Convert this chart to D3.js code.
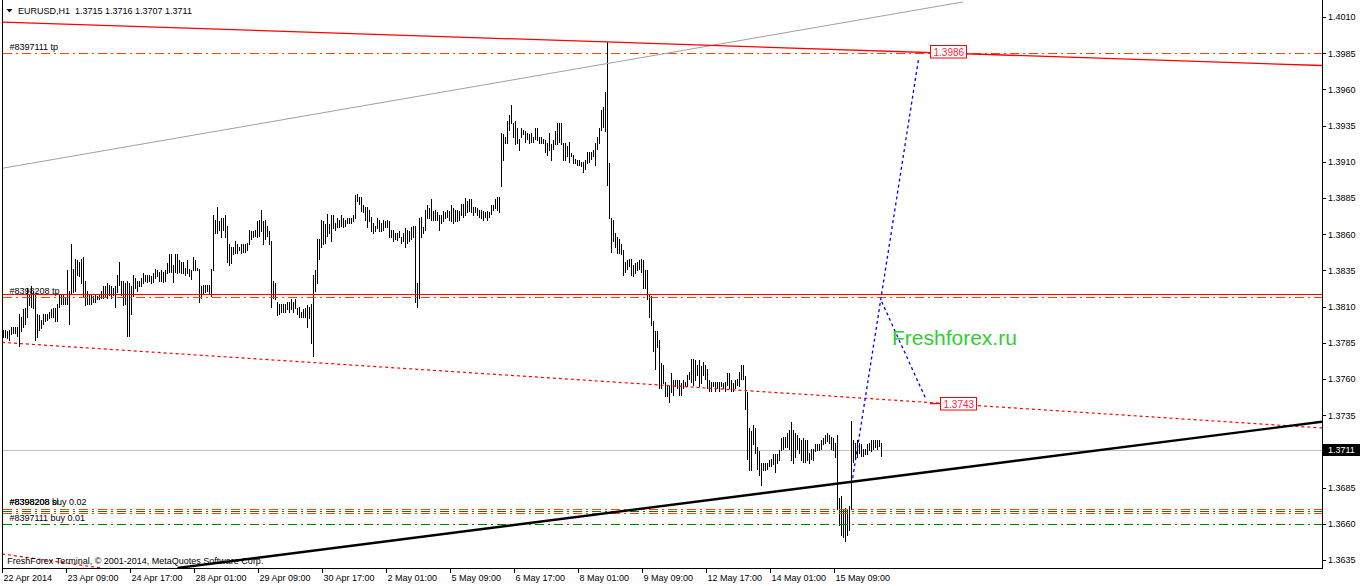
<!DOCTYPE html>
<html><head><meta charset="utf-8">
<script src="https://cdn.jsdelivr.net/npm/d3@7"></script>
<style>
body{margin:0;background:#fff}
svg{display:block}
text{font-family:"Liberation Sans",Arial,sans-serif;}
</style>
</head><body>
<svg id="c" width="1362" height="586"></svg>
<script>
// ---------------- DATA ----------------
const titleText = "EURUSD,H1  1.3715 1.3716 1.3707 1.3711";
const copyrightText = "FreshForex Terminal, \u00a9 2001-2014, MetaQuotes Software Corp.";

const highs = [
1.3794,1.3794,1.3793,1.3794,1.3796,1.3796,1.3796,1.3796,1.3805,1.3803,
1.3808,1.3809,1.3823,1.3819,1.3824,1.3821,1.3818,1.3805,1.3804,1.3801,
1.3805,1.3805,1.3805,1.3806,1.3808,1.3809,1.3809,1.3812,1.3818,1.3819,
1.3819,1.3816,1.3835,1.3821,1.3853,1.3836,1.3843,1.3842,1.3841,1.3843,
1.3844,1.3828,1.3821,1.3818,1.3818,1.3817,1.3818,1.3817,1.3818,1.3821,
1.3824,1.3824,1.3826,1.3825,1.3824,1.3823,1.3824,1.3832,1.3841,1.3828,
1.3828,1.3826,1.3828,1.3826,1.3824,1.3832,1.3830,1.3828,1.3828,1.3830,
1.3833,1.3832,1.3832,1.3832,1.3831,1.3833,1.3836,1.3835,1.3834,1.3835,
1.3834,1.3835,1.3840,1.3846,1.3846,1.3839,1.3846,1.3846,1.3842,1.3841,
1.3841,1.3837,1.3842,1.3836,1.3835,1.3844,1.3842,1.3837,1.3836,1.3824,
1.3825,1.3825,1.3825,1.3825,1.3836,1.3873,1.3870,1.3879,1.3869,1.3871,
1.3871,1.3873,1.3866,1.3853,1.3851,1.3851,1.3855,1.3853,1.3851,1.3853,
1.3853,1.3853,1.3854,1.3863,1.3862,1.3862,1.3863,1.3869,1.3870,1.3877,
1.3869,1.3870,1.3866,1.3862,1.3855,1.3828,1.3826,1.3813,1.3812,1.3812,
1.3812,1.3812,1.3813,1.3813,1.3815,1.3813,1.3815,1.3809,1.3810,1.3806,
1.3808,1.3809,1.3811,1.3810,1.3812,1.3832,1.3835,1.3857,1.3857,1.3870,
1.3869,1.3867,1.3874,1.3867,1.3873,1.3873,1.3868,1.3871,1.3870,1.3873,
1.3871,1.3870,1.3871,1.3871,1.3871,1.3873,1.3887,1.3888,1.3886,1.3886,
1.3880,1.3879,1.3879,1.3877,1.3872,1.3868,1.3866,1.3871,1.3870,1.3868,
1.3870,1.3869,1.3870,1.3869,1.3863,1.3863,1.3861,1.3861,1.3862,1.3858,
1.3861,1.3864,1.3863,1.3862,1.3865,1.3866,1.3866,1.3826,1.3871,1.3872,
1.3865,1.3877,1.3880,1.3878,1.3884,1.3876,1.3877,1.3875,1.3873,1.3873,
1.3876,1.3875,1.3877,1.3876,1.3880,1.3878,1.3877,1.3877,1.3876,1.3881,
1.3881,1.3885,1.3883,1.3884,1.3884,1.3879,1.3879,1.3878,1.3877,1.3877,
1.3876,1.3875,1.3876,1.3875,1.3880,1.3880,1.3884,1.3886,1.3886,1.3930,
1.3929,1.3927,1.3938,1.3942,1.3949,1.3937,1.3938,1.3933,1.3926,1.3933,
1.3932,1.3931,1.3930,1.3929,1.3930,1.3927,1.3933,1.3933,1.3927,1.3927,
1.3926,1.3925,1.3923,1.3930,1.3922,1.3925,1.3931,1.3937,1.3937,1.3937,
1.3923,1.3923,1.3921,1.3924,1.3916,1.3915,1.3912,1.3911,1.3911,1.3910,
1.3910,1.3911,1.3917,1.3917,1.3917,1.3918,1.3923,1.3927,1.3933,1.3946,
1.3948,1.3958,1.3993,1.3909,1.3871,1.3870,1.3861,1.3858,1.3857,1.3853,
1.3849,1.3841,1.3842,1.3843,1.3843,1.3839,1.3840,1.3841,1.3842,1.3843,
1.3842,1.3835,1.3835,1.3819,1.3817,1.3800,1.3793,1.3793,1.3787,1.3771,
1.3770,1.3758,1.3756,1.3755,1.3764,1.3759,1.3759,1.3759,1.3759,1.3757,
1.3759,1.3758,1.3763,1.3765,1.3774,1.3774,1.3773,1.3770,1.3773,1.3769,
1.3772,1.3770,1.3767,1.3759,1.3758,1.3758,1.3758,1.3758,1.3758,1.3758,
1.3757,1.3758,1.3764,1.3764,1.3759,1.3757,1.3759,1.3760,1.3765,1.3770,
1.3770,1.3762,1.3751,1.3726,1.3724,1.3728,1.3726,1.3713,1.3710,1.3702,
1.3702,1.3702,1.3702,1.3704,1.3705,1.3708,1.3708,1.3708,1.3711,1.3719,
1.3720,1.3720,1.3723,1.3725,1.3730,1.3725,1.3723,1.3721,1.3719,1.3718,
1.3719,1.3718,1.3718,1.3709,1.3712,1.3712,1.3715,1.3715,1.3715,1.3718,
1.3719,1.3721,1.3723,1.3721,1.3720,1.3719,1.3716,1.3721,1.3678,1.3679,
1.3670,1.3671,1.3670,1.3672,1.3731,1.3718,1.3716,1.3718,1.3716,1.3715,
1.3712,1.3712,1.3715,1.3716,1.3718,1.3718,1.3718,1.3718,1.3718,1.3716
];
const lows = [
1.3789,1.3789,1.3788,1.3787,1.3791,1.3792,1.3792,1.3790,1.3783,1.3793,
1.3796,1.3798,1.3803,1.3811,1.3810,1.3809,1.3787,1.3789,1.3794,1.3795,
1.3798,1.3800,1.3801,1.3802,1.3803,1.3803,1.3800,1.3800,1.3810,1.3812,
1.3812,1.3812,1.3812,1.3798,1.3819,1.3820,1.3821,1.3832,1.3831,1.3826,
1.3817,1.3811,1.3812,1.3812,1.3812,1.3813,1.3813,1.3815,1.3815,1.3816,
1.3816,1.3817,1.3816,1.3818,1.3816,1.3818,1.3810,1.3820,1.3825,1.3818,
1.3811,1.3812,1.3790,1.3790,1.3805,1.3817,1.3823,1.3821,1.3824,1.3824,
1.3826,1.3828,1.3827,1.3828,1.3826,1.3827,1.3830,1.3831,1.3828,1.3828,
1.3827,1.3828,1.3833,1.3834,1.3834,1.3827,1.3834,1.3833,1.3834,1.3833,
1.3833,1.3832,1.3833,1.3831,1.3829,1.3835,1.3835,1.3835,1.3813,1.3816,
1.3819,1.3820,1.3821,1.3819,1.3817,1.3835,1.3861,1.3861,1.3863,1.3858,
1.3863,1.3858,1.3841,1.3839,1.3840,1.3846,1.3847,1.3847,1.3849,1.3847,
1.3848,1.3848,1.3849,1.3853,1.3857,1.3858,1.3859,1.3858,1.3859,1.3862,
1.3853,1.3857,1.3859,1.3853,1.3810,1.3816,1.3815,1.3804,1.3805,1.3806,
1.3806,1.3806,1.3808,1.3806,1.3808,1.3806,1.3809,1.3805,1.3803,1.3803,
1.3803,1.3803,1.3796,1.3802,1.3785,1.3776,1.3821,1.3826,1.3843,1.3851,
1.3853,1.3854,1.3859,1.3861,1.3855,1.3864,1.3863,1.3865,1.3865,1.3866,
1.3865,1.3866,1.3868,1.3868,1.3868,1.3869,1.3871,1.3883,1.3881,1.3876,
1.3875,1.3870,1.3865,1.3869,1.3862,1.3861,1.3862,1.3864,1.3862,1.3862,
1.3863,1.3865,1.3865,1.3858,1.3858,1.3855,1.3857,1.3856,1.3858,1.3854,
1.3855,1.3851,1.3854,1.3855,1.3857,1.3858,1.3813,1.3810,1.3816,1.3858,
1.3861,1.3863,1.3871,1.3871,1.3870,1.3870,1.3870,1.3870,1.3863,1.3868,
1.3869,1.3871,1.3872,1.3870,1.3869,1.3868,1.3869,1.3869,1.3870,1.3873,
1.3872,1.3873,1.3875,1.3876,1.3875,1.3873,1.3875,1.3873,1.3872,1.3871,
1.3870,1.3872,1.3870,1.3872,1.3874,1.3877,1.3878,1.3877,1.3875,1.3893,
1.3911,1.3923,1.3923,1.3932,1.3937,1.3927,1.3922,1.3923,1.3918,1.3927,
1.3929,1.3924,1.3926,1.3923,1.3924,1.3924,1.3926,1.3925,1.3923,1.3923,
1.3923,1.3917,1.3915,1.3918,1.3911,1.3919,1.3922,1.3922,1.3924,1.3922,
1.3911,1.3911,1.3914,1.3910,1.3914,1.3909,1.3909,1.3908,1.3908,1.3907,
1.3903,1.3905,1.3909,1.3910,1.3912,1.3914,1.3908,1.3919,1.3923,1.3932,
1.3934,1.3931,1.3894,1.3871,1.3848,1.3855,1.3851,1.3847,1.3847,1.3846,
1.3832,1.3834,1.3836,1.3838,1.3832,1.3831,1.3833,1.3835,1.3836,1.3834,
1.3823,1.3823,1.3815,1.3803,1.3797,1.3779,1.3767,1.3782,1.3754,1.3754,
1.3757,1.3748,1.3748,1.3744,1.3751,1.3749,1.3755,1.3754,1.3749,1.3749,
1.3754,1.3755,1.3755,1.3760,1.3758,1.3756,1.3759,1.3763,1.3755,1.3757,
1.3763,1.3760,1.3754,1.3752,1.3752,1.3755,1.3752,1.3754,1.3752,1.3755,
1.3754,1.3752,1.3756,1.3754,1.3752,1.3752,1.3754,1.3756,1.3755,1.3760,
1.3760,1.3739,1.3705,1.3697,1.3697,1.3715,1.3709,1.3698,1.3694,1.3687,
1.3697,1.3697,1.3698,1.3700,1.3700,1.3701,1.3696,1.3702,1.3704,1.3711,
1.3712,1.3713,1.3713,1.3712,1.3704,1.3702,1.3706,1.3712,1.3709,1.3704,
1.3703,1.3703,1.3704,1.3702,1.3705,1.3704,1.3710,1.3711,1.3711,1.3712,
1.3715,1.3716,1.3717,1.3716,1.3712,1.3711,1.3706,1.3670,1.3659,1.3652,
1.3651,1.3648,1.3652,1.3656,1.3670,1.3703,1.3705,1.3706,1.3709,1.3707,
1.3707,1.3708,1.3708,1.3711,1.3710,1.3712,1.3713,1.3712,1.3714,1.3707
];

const timeLabels = ["22 Apr 2014","23 Apr 09:00","24 Apr 17:00","28 Apr 01:00","29 Apr 09:00",
  "30 Apr 17:00","2 May 01:00","5 May 09:00","6 May 17:00","8 May 01:00","9 May 09:00",
  "12 May 17:00","14 May 01:00","15 May 09:00"];
const timeLabelBars = [0,32,64,96,128,160,192,224,256,288,320,352,384,416];

const priceTicks = [1.4010,1.3985,1.3960,1.3935,1.3910,1.3885,1.3860,1.3835,1.3810,
  1.3785,1.3760,1.3735,1.3685,1.3660,1.3635];
const bidPrice = 1.3711;

const redHLine = 1.3819;
const tpSlLines = [1.3985, 1.38165, 1.36705, 1.36672];
const openLines = [1.3669, 1.3660];
const orderLabels = [
  {text:"#8397111 tp", price:1.3985},
  {text:"#8398208 tp", price:1.38165},
  {text:"#8398208 buy 0.02", price:1.36705},
  {text:"#8398208 sl", price:1.36705},
  {text:"#8397111 buy 0.01", price:1.3660}
];

// trend lines: [[bar, price],[bar, price]]
const trendRed = [[-0.5,1.40065],[659.5,1.39765]];
const trendGray = [[-0.5,1.39055],[480,1.40204]];
const trendRedDot = [[-0.5,1.37853],[659.5,1.37262]];
const trendRedDot2 = [[-0.5,1.36392],[49,1.36295]];
const trendBlack = [[87.25,1.36295],[659.5,1.37305]];
const forecastUp = [[424.85,1.36916],[457.85,1.39817]];
const forecastDown = [[439.35,1.38134],[461.5,1.37460]];
const leader = [[463.5,1.3743],[468.5,1.3743]];
const priceLabels = [
  {text:"1.3986", bar:463.5, price:1.3986},
  {text:"1.3743", bar:468.5, price:1.3743}
];
const brandText = {text:"Freshforex.ru", bar:444.5, price:1.37835};

// ---------------- DRAW ----------------
const W = 1362, H = 586;
const svg = d3.select("#c");
const x = d3.scaleLinear().domain([0, 659.5]).range([3, 1322]);
const y = d3.scaleLinear().domain([1.362948, 1.402174]).range([568, 0]);

svg.append("rect").attr("width", W).attr("height", H).attr("fill", "#fff");
svg.append("defs").append("clipPath").attr("id", "plot")
  .append("rect").attr("x", 3).attr("y", 0).attr("width", 1319).attr("height", 568);

const g = svg.append("g").attr("clip-path", "url(#plot)");
const line = d3.line().x(d => x(d[0])).y(d => y(d[1]));

// bid line
g.append("line").attr("x1", 3).attr("x2", 1322)
  .attr("y1", Math.round(y(bidPrice)) + 0.5).attr("y2", Math.round(y(bidPrice)) + 0.5)
  .attr("stroke", "#c0c0c0").attr("stroke-width", 1);

// bars
g.append("g").selectAll("line").data(highs).join("line")
  .attr("x1", (d, i) => x(i) + 0.5).attr("x2", (d, i) => x(i) + 0.5)
  .attr("y1", (d) => y(d)).attr("y2", (d, i) => y(lows[i]) + 1)
  .attr("stroke", "#000").attr("stroke-width", 1).attr("shape-rendering", "crispEdges");

// horizontal red line
g.append("line").attr("x1", 3).attr("x2", 1322)
  .attr("y1", Math.round(y(redHLine)) + 0.5).attr("y2", Math.round(y(redHLine)) + 0.5)
  .attr("stroke", "#ff0000").attr("stroke-width", 1);

// tp / sl lines (orange-red dash-dot)
g.append("g").selectAll("path").data(tpSlLines).join("path")
  .attr("d", p => `M3,${Math.round(y(p)) + 0.5}H1322`)
  .attr("fill", "none")
  .style("stroke", "rgb(255,69,0)")
  .style("stroke-width", "1px")
  .style("stroke-dasharray", "9,4,2,4");

// open price lines (green dash-dot)
g.append("g").selectAll("path").data(openLines).join("path")
  .attr("d", p => `M3,${Math.round(y(p)) + 0.5}H1322`)
  .attr("fill", "none")
  .style("stroke", "rgb(0,128,0)")
  .style("stroke-width", "1px")
  .style("stroke-dasharray", "9,4,2,4");

// trend lines
g.append("path").attr("d", line(trendGray)).attr("fill", "none").attr("stroke", "#a0a0a0").attr("stroke-width", 1);
g.append("path").attr("d", line(trendRed)).attr("fill", "none").attr("stroke", "#ff0000").attr("stroke-width", 1.3);
g.append("path").attr("d", line(trendRedDot)).attr("fill", "none").attr("stroke", "#ff0000").attr("stroke-width", 1.2).attr("stroke-dasharray", "3,3");
g.append("path").attr("d", line(trendRedDot2)).attr("fill", "none").attr("stroke", "#ff0000").attr("stroke-width", 1.2).attr("stroke-dasharray", "3,3");
g.append("path").attr("d", line(trendBlack)).attr("fill", "none").attr("stroke", "#000").attr("stroke-width", 2.4);
g.append("path").attr("d", line(forecastUp)).attr("fill", "none").attr("stroke", "#0000ff").attr("stroke-width", 1.3).attr("stroke-dasharray", "3,3");
g.append("path").attr("d", line(forecastDown)).attr("fill", "none").attr("stroke", "#0000ff").attr("stroke-width", 1.3).attr("stroke-dasharray", "3,3");
g.append("path").attr("d", line(leader)).attr("fill", "none").attr("stroke", "#ff0000").attr("stroke-width", 1.2);

// order labels
g.append("g").selectAll("text").data(orderLabels).join("text")
  .attr("x", x(3.2)).attr("y", d => y(d.price) - 3.3)
  .attr("font-size", "9px").attr("fill", "#000").text(d => d.text);

// price labels
const pl = g.append("g").selectAll("g").data(priceLabels).join("g")
  .attr("transform", d => `translate(${Math.round(x(d.bar))},${Math.round(y(d.price))})`);
pl.append("rect").attr("x", 0.5).attr("y", -6.5).attr("width", 36).attr("height", 12.5)
  .attr("fill", "#fff").attr("stroke", "#ff0000").attr("stroke-width", 1);
pl.append("text").attr("x", 3.5).attr("y", 3.8).attr("font-size", "10px").attr("fill", "#ff1f3f").text(d => d.text);

// brand text
g.append("text").attr("x", x(brandText.bar)).attr("y", y(brandText.price))
  .attr("font-size", "21px").attr("fill", "#32cd32").text(brandText.text);

// frame
svg.append("line").attr("x1", 2.5).attr("x2", 2.5).attr("y1", 0).attr("y2", 568).attr("stroke", "#000");
svg.append("line").attr("x1", 1322.5).attr("x2", 1322.5).attr("y1", 0).attr("y2", 569).attr("stroke", "#000");
svg.append("line").attr("x1", 2).attr("x2", 1323).attr("y1", 568.5).attr("y2", 568.5).attr("stroke", "#000");

// title
svg.append("path").attr("d", "M6.5,9 L12.5,9 L9.5,12.5 Z").attr("fill", "#000");
svg.append("text").attr("x", 18).attr("y", 13.5).attr("font-size", "9px").attr("fill", "#000")
  .style("white-space", "pre").text(titleText);

// copyright
svg.append("text").attr("x", 7.3).attr("y", 563.5).attr("font-size", "9px").attr("fill", "#000").text(copyrightText);

// right axis
const ra = svg.append("g");
ra.selectAll("line").data(priceTicks).join("line")
  .attr("x1", 1323).attr("x2", 1326)
  .attr("y1", d => Math.round(y(d)) + 0.5).attr("y2", d => Math.round(y(d)) + 0.5)
  .attr("stroke", "#000");
ra.selectAll("text").data(priceTicks).join("text")
  .attr("x", 1328).attr("y", d => y(d) + 3.3)
  .attr("font-size", "9px").attr("fill", "#000").text(d => d.toFixed(4));

// bid price box
const by = Math.round(y(bidPrice));
svg.append("rect").attr("x", 1323).attr("y", by - 6).attr("width", 37).attr("height", 12).attr("fill", "#000");
svg.append("text").attr("x", 1328).attr("y", by + 3.3).attr("font-size", "9px").attr("fill", "#fff").text(bidPrice.toFixed(4));

// time axis
const ta = svg.append("g");
ta.selectAll("line").data(timeLabelBars).join("line")
  .attr("x1", d => x(d) - 0.5).attr("x2", d => x(d) - 0.5)
  .attr("y1", 569).attr("y2", 573).attr("stroke", "#000");
ta.selectAll("text").data(timeLabelBars).join("text")
  .attr("x", d => x(d) + 0.5).attr("y", 581)
  .attr("font-size", "9px").attr("fill", "#000").text((d, i) => timeLabels[i]);
</script>
</body></html>
